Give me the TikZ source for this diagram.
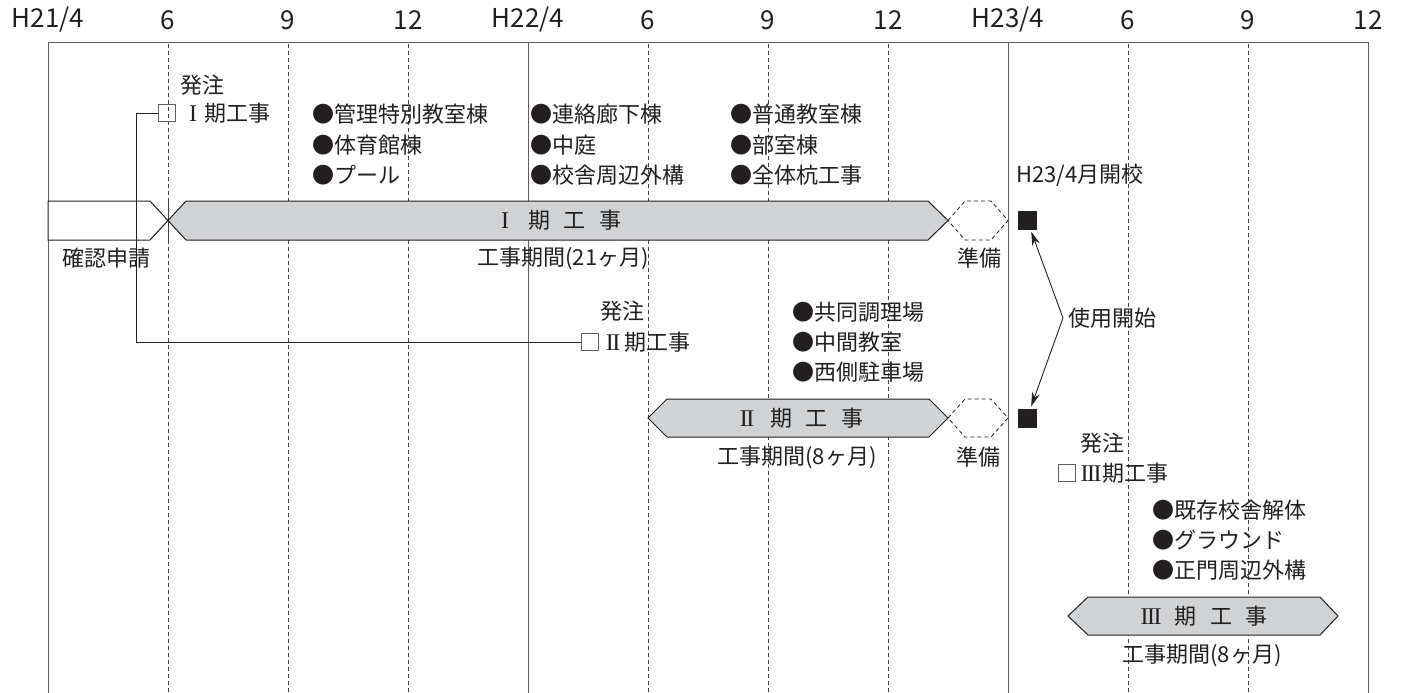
\documentclass[tikz,border=0pt]{standalone}
\usepackage{fontspec}
\setmainfont{Noto Sans CJK JP}
\newfontfamily\romanf{Liberation Serif}
\newcommand\rnum[1]{\makebox[22pt]{\romanf\fontsize{24}{26}\selectfont #1}}
\newcommand\rtwo{I\kern-1.5pt I}
\newcommand\rthree{I\kern-1.5pt I\kern-1.5pt I}
\usetikzlibrary{arrows.meta}
\definecolor{ink}{RGB}{35,31,32}
\definecolor{barfill}{RGB}{209,210,212}
\definecolor{framec}{RGB}{95,95,95}
\begin{document}
\begin{tikzpicture}[x=1pt,y=-1pt,
  every node/.style={inner sep=0pt, text=ink, font=\fontsize{22}{26}\selectfont},
  toplbl/.style={font=\fontsize{26}{28}\selectfont},
  txt/.style={anchor=west},
  frameline/.style={framec, line width=1pt},
  dashline/.style={ink!85, line width=0.8pt, dash pattern=on 4pt off 3pt},
  barshape/.style={draw=ink, fill=barfill, line width=1pt},
  prepshape/.style={draw=ink, line width=0.8pt, dash pattern=on 4pt off 3pt},
  sqbox/.style={fill=ink, minimum size=19pt},
  chk/.style={draw=framec, line width=0.8pt, minimum size=17pt},
  link/.style={ink, line width=1pt},
  usearrow/.style={ink, line width=0.9pt, -{Stealth[length=14pt,width=8pt]}, shorten >=2pt}
]
\useasboundingbox (0,0) rectangle (1401,693);
% top labels
\node[toplbl] (t1) at (48,20) {H21/4};
\node[toplbl] (t2) at (168,20) {6};
\node[toplbl] (t3) at (288,20) {9};
\node[toplbl] (t4) at (408,20) {12};
\node[toplbl] (t5) at (528,20) {H22/4};
\node[toplbl] (t6) at (648,20) {6};
\node[toplbl] (t7) at (768,20) {9};
\node[toplbl] (t8) at (888,20) {12};
\node[toplbl] (t9) at (1008,20) {H23/4};
\node[toplbl] (t10) at (1128,20) {6};
\node[toplbl] (t11) at (1248,20) {9};
\node[toplbl] (t12) at (1368,20) {12};
% frame
\draw[frameline] (48,693) -- (48,43) -- (1368,43) -- (1368,693);
\draw[frameline] (528,43) -- (528,693);
\draw[frameline] (1008,43) -- (1008,693);
\foreach \x in {168,288,408,648,768,888,1128,1248}
  \draw[dashline] (\x,44) -- (\x,693);
% phase I bar
\draw[draw=ink, fill=white, line width=1pt] (48,201) -- (150,201) -- (168,220.5) -- (150,240) -- (48,240) -- cycle;
\draw[dashline] (168,201) -- (168,240);
\draw[barshape] (168,220.5) -- (186,201) -- (928,201) -- (948,220.5) -- (928,240) -- (186,240) -- cycle;
\draw[prepshape] (948,220.5) -- (965,201) -- (991,201) -- (1008,220.5) -- (991,240) -- (965,240) -- cycle;
\node (bar1) at (558,220.5) {\rnum{I}\hspace{12pt}期\hspace{14pt}工\hspace{14pt}事};
% phase II bar
\draw[barshape] (648,418) -- (667,399) -- (929,399) -- (948,418) -- (929,437) -- (667,437) -- cycle;
\draw[prepshape] (948,418) -- (965,399) -- (991,399) -- (1008,418) -- (991,437) -- (965,437) -- cycle;
\node (bar2) at (800,418) {\rnum{\rtwo}\hspace{12pt}期\hspace{14pt}工\hspace{14pt}事};
% phase III bar
\draw[barshape] (1068,616) -- (1088,597) -- (1320,597) -- (1338,616) -- (1320,635) -- (1088,635) -- cycle;
\node (bar3) at (1204,616) {\rnum{\rthree}\hspace{12pt}期\hspace{14pt}工\hspace{14pt}事};
% squares
\node[sqbox] (sq1) at (1027,220) {};
\node[sqbox] (sq2) at (1027,418) {};
% phase I texts
\node[txt] (o1) at (180,85) {発注};
\node[chk] (b1) at (167,113) {};
\node[txt] (p1) at (182,113) {\rnum{I}期工事};
\node[txt] (a1) at (312,114) {●管理特別教室棟};
\node[txt] (a2) at (312,145) {●体育館棟};
\node[txt] (a3) at (312,175) {●プール};
\node[txt] (a4) at (530,114) {●連絡廊下棟};
\node[txt] (a5) at (530,145) {●中庭};
\node[txt] (a6) at (530,175) {●校舎周辺外構};
\node[txt] (a7) at (730,114) {●普通教室棟};
\node[txt] (a8) at (730,145) {●部室棟};
\node[txt] (a9) at (730,175) {●全体杭工事};
\node[txt] (open) at (1016,175) {H23/4月開校};
\node[txt] (kak) at (62,258) {確認申請};
\node (per1) at (563,258) {工事期間(21ヶ月)};
\node (jun1) at (979,258) {準備};
% phase II texts
\node[anchor=east] (o2) at (645,311) {発注};
\node[chk] (b2) at (590,342) {};
\node[txt] (p2) at (602,342) {\rnum{\rtwo}期工事};
\node[txt] (c1) at (792,312) {●共同調理場};
\node[txt] (c2) at (792,342) {●中間教室};
\node[txt] (c3) at (792,372) {●西側駐車場};
\node (per2) at (797,457) {工事期間(8ヶ月)};
\node (jun2) at (978,457) {準備};
% connector from phase I order to phase II order
\coordinate (k1) at (136,113);
\coordinate (k2) at (136,342);
\draw[link] (b1.west) -- (k1) -- (k2) -- (b2.west);
% use start
\node[txt] (use) at (1068,318) {使用開始};
\coordinate (usept) at (1063,318);
\draw[usearrow] (usept) -- (sq1);
\draw[usearrow] (usept) -- (sq2);
% phase III texts
\node[txt] (o3) at (1080,443) {発注};
\node[chk] (b3) at (1067,473) {};
\node[txt] (p3) at (1080,473) {\rnum{\rthree}期工事};
\node[txt] (d1) at (1152,510) {●既存校舎解体};
\node[txt] (d2) at (1152,540) {●グラウンド};
\node[txt] (d3) at (1152,570) {●正門周辺外構};
\node (per3) at (1202,655) {工事期間(8ヶ月)};
\end{tikzpicture}
\end{document}
